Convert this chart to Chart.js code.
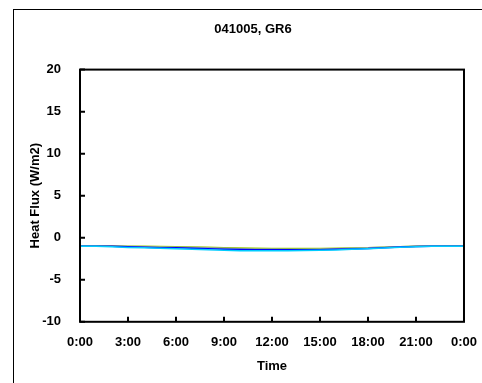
<!DOCTYPE html>
<html>
<head>
<meta charset="utf-8">
<script src="https://cdn.jsdelivr.net/npm/chart.js@4.4.0/dist/chart.umd.min.js"></script>
<style>
    html, body { margin: 0; padding: 0; background: #fff; }
    #wrap { position: relative; width: 482px; height: 383px; overflow: hidden; }
    #frame { position: absolute; left: 13px; top: 9px; width: 600px; height: 600px; border: 1px solid #000; }
    #fluxChart { position: absolute; left: 0; top: 0; }
</style>
</head>
<body>
<div id="wrap">
    <div id="frame"></div>
    <canvas id="fluxChart" width="482" height="383"></canvas>
</div>
<script>
// hourly samples over the day
const hours = [0, 1, 2, 3, 4, 5, 6, 7, 8, 9, 10, 11, 12, 13, 14, 15, 16, 17, 18, 19, 20, 21, 22, 23, 24];

const plateA = [-0.95, -0.96, -0.98, -1.0, -1.02, -1.05, -1.08, -1.1, -1.13, -1.18, -1.22, -1.25, -1.27, -1.28, -1.28, -1.27, -1.25, -1.22, -1.18, -1.12, -1.06, -1.0, -0.97, -0.95, -0.95];
const plateB = [-1.0, -1.0, -1.02, -1.08, -1.14, -1.18, -1.2, -1.24, -1.3, -1.36, -1.4, -1.42, -1.43, -1.43, -1.43, -1.42, -1.38, -1.33, -1.28, -1.18, -1.1, -1.03, -1.0, -1.0, -1.0];
const plateC = [-1.0, -1.02, -1.06, -1.15, -1.2, -1.26, -1.3, -1.36, -1.42, -1.5, -1.54, -1.55, -1.55, -1.55, -1.53, -1.5, -1.45, -1.38, -1.3, -1.22, -1.14, -1.07, -1.02, -1.0, -1.0];
const plateD = [-0.98, -0.99, -1.0, -1.03, -1.06, -1.1, -1.13, -1.16, -1.2, -1.26, -1.3, -1.33, -1.35, -1.36, -1.36, -1.34, -1.3, -1.26, -1.2, -1.14, -1.07, -1.02, -0.99, -0.98, -0.98];

const yTicks = [-10, -5, 0, 5, 10, 15, 20];
const xTickHours = [0, 3, 6, 9, 12, 15, 18, 21, 24];

const fontFamily = '"Liberation Sans", Arial, sans-serif';
const boldFont = { family: fontFamily, size: 13, weight: 'bold' };

function series(label, values, color) {
    return {
        label: label,
        data: hours.map((h, i) => ({ x: h, y: values[i] })),
        borderColor: color,
        backgroundColor: color,
        borderWidth: 1.5,
        pointRadius: 0,
        tension: 0,
        fill: false
    };
}

// plot frame and inward tick marks, Excel style
const frameTicks = {
    id: 'frameTicks',
    afterDatasetsDraw(chart) {
        const ctx = chart.ctx;
        const area = chart.chartArea;
        const xs = chart.scales.x;
        const ys = chart.scales.y;
        ctx.save();
        ctx.strokeStyle = '#000';
        ctx.lineWidth = 2;
        ctx.strokeRect(area.left, area.top, area.right - area.left, area.bottom - area.top);
        ctx.beginPath();
        yTicks.forEach(v => {
            const y = ys.getPixelForValue(v);
            ctx.moveTo(area.left, y);
            ctx.lineTo(area.left + 5, y);
        });
        xTickHours.forEach(v => {
            const x = xs.getPixelForValue(v);
            ctx.moveTo(x, area.bottom);
            ctx.lineTo(x, area.bottom - 5);
        });
        ctx.stroke();
        ctx.restore();
    }
};

const ctx = document.getElementById('fluxChart').getContext('2d');
const chart = new Chart(ctx, {
    type: 'line',
    data: {
        datasets: [
            series('GR6-3', plateC, '#00CCFF'),
            series('GR6-2', plateB, '#0000FF'),
            series('GR6-4', plateD, '#8FA89A'),
            series('GR6-1', plateA, '#99CC00')
        ]
    },
    options: {
        responsive: false,
        animation: false,
        layout: {
            padding: { left: 40, right: 16, top: 0, bottom: 9 }
        },
        plugins: {
            legend: { display: false },
            tooltip: { enabled: false },
            title: {
                display: true,
                text: '041005, GR6',
                color: '#000',
                font: boldFont,
                padding: { top: 22, bottom: 32 }
            }
        },
        scales: {
            x: {
                type: 'linear',
                min: 0,
                max: 24,
                afterBuildTicks(scale) {
                    scale.ticks = xTickHours.map(v => ({ value: v }));
                },
                ticks: {
                    color: '#000',
                    font: boldFont,
                    padding: 5,
                    maxRotation: 0,
                    autoSkip: false,
                    callback: v => v % 24 + ':00'
                },
                grid: { display: false },
                border: { display: false },
                title: {
                    display: true,
                    text: 'Time',
                    color: '#000',
                    font: boldFont,
                    padding: { top: 3, bottom: 0 }
                }
            },
            y: {
                min: -10,
                max: 20,
                afterBuildTicks(scale) {
                    scale.ticks = yTicks.map(v => ({ value: v }));
                },
                afterFit(scale) {
                    scale.width = 40;
                },
                ticks: {
                    color: '#000',
                    font: boldFont,
                    padding: 11
                },
                grid: { display: false },
                border: { display: false },
                title: {
                    display: true,
                    text: 'Heat Flux (W/m2)',
                    color: '#000',
                    font: boldFont,
                    padding: { top: -12.8, bottom: 0 }
                }
            }
        }
    },
    plugins: [frameTicks]
});
</script>
</body>
</html>
